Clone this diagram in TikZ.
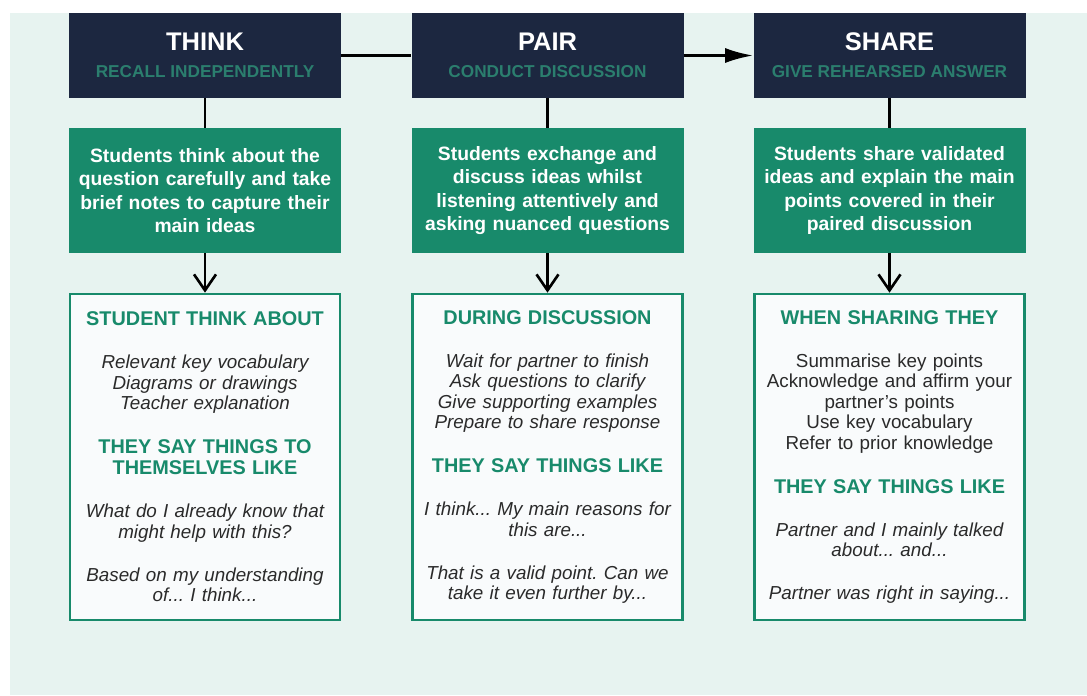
\documentclass[tikz,border=0pt]{standalone}
\usepackage{fontspec}
\setmainfont{Liberation Sans}
\usetikzlibrary{arrows.meta}
\frenchspacing
\definecolor{mint}{HTML}{E7F3F0}
\definecolor{navy}{HTML}{1C2740}
\definecolor{leaf}{HTML}{188A6B}
\definecolor{dimleaf}{HTML}{2B7E6E}
\definecolor{ink}{HTML}{2A2A2A}
\definecolor{paper}{HTML}{F9FBFC}
\def\stagesub{\fontsize{9.8}{11}\selectfont\color{dimleaf}}
\def\detailhead#1{{\leavevmode\fontsize{11.3}{12}\selectfont\bfseries\color{leaf}#1\par}}
\def\detailtext#1{{\leavevmode#1\par}}
\def\gap{\vskip 12.8pt}
\tikzset{
  stage/.style={fill=navy, text=white, font=\fontsize{14.5}{15.4}\selectfont\bfseries, align=center,
    minimum width=5.44cm, minimum height=1.7cm, inner sep=0pt},
  summary/.style={fill=leaf, text=white, font=\fontsize{11}{13.4}\selectfont\bfseries, align=center,
    text width=5.2cm, minimum width=5.44cm, minimum height=2.5cm, inner sep=0pt},
  detail/.style={draw=leaf, line width=1.5pt, fill=paper, text=ink, font=\fontsize{10.7}{11.7}\selectfont,
    align=center, text width=5.2cm, minimum width=5.4cm, minimum height=6.52cm, inner sep=0pt,
    execute at begin node=\setlength{\parindent}{0pt}},
  link/.style={line width=1.5pt}
}

\begin{document}
\begin{tikzpicture}
	%%%%% BACKDROP %%%%%
	\useasboundingbox (0,0) rectangle (21.74,13.9);
	\fill[white] (0,0) rectangle (21.74,13.9);
	\fill[mint] (0.2,0) rectangle (21.74,13.64);
	
	%%%%% STAGES %%%%%
	\node[stage] (think) at (4.1,12.79) {THINK\\{\stagesub RECALL INDEPENDENTLY}};
	\node[stage] (pair) at (10.95,12.79) {PAIR\\{\stagesub CONDUCT DISCUSSION}};
	\node[stage] (share) at (17.79,12.79) {SHARE\\{\stagesub GIVE REHEARSED ANSWER}};
	
	\draw[link] (think) -- (pair);
	\draw[link, -{Latex[length=0.56cm,width=0.3cm]}] (pair) -- (share);
	
	%%%%% SUMMARIES %%%%%
	\node[summary] (thinknote) at (4.1,10.09) {Students think about the\\question carefully and take\\brief notes to capture their\\main ideas};
	\node[summary] (pairnote) at (10.95,10.09) {Students exchange and\\discuss ideas whilst\\listening attentively and\\asking nuanced questions};
	\node[summary] (sharenote) at (17.79,10.09) {Students share validated\\ideas and explain the main\\points covered in their\\paired discussion};
	
	\draw[link] (think) -- (thinknote);
	\draw[link] (pair) -- (pairnote);
	\draw[link] (share) -- (sharenote);
	
	%%%%% DETAILS %%%%%
	\node[detail] (thinkdetail) at (4.1,4.76) {\detailhead{STUDENT THINK ABOUT}\gap
		\detailtext{\itshape Relevant key vocabulary\\Diagrams or drawings\\Teacher explanation}\gap
		\detailhead{THEY SAY THINGS TO\\THEMSELVES LIKE}\gap
		\detailtext{\itshape What do I already know that\\might help with this?}\gap
		\detailtext{\itshape Based on my understanding\\of... I think...}};
	\node[detail] (pairdetail) at (10.95,4.76) {\detailhead{DURING DISCUSSION}\gap
		\detailtext{\itshape Wait for partner to finish\\Ask questions to clarify\\Give supporting examples\\Prepare to share response}\gap
		\detailhead{THEY SAY THINGS LIKE}\gap
		\detailtext{\itshape I think... My main reasons for\\this are...}\gap
		\detailtext{\itshape That is a valid point. Can we\\take it even further by...}};
	\node[detail] (sharedetail) at (17.79,4.76) {\detailhead{WHEN SHARING THEY}\gap
		\detailtext{Summarise key points\\Acknowledge and affirm your\\partner's points\\Use key vocabulary\\Refer to prior knowledge}\gap
		\detailhead{THEY SAY THINGS LIKE}\gap
		\detailtext{\itshape Partner and I mainly talked\\about... and...}\gap
		\detailtext{\itshape Partner was right in saying...}};
	
	\draw[link, -{Straight Barb[length=0.32cm,width=0.44cm]}] (thinknote) -- (thinkdetail);
	\draw[link, -{Straight Barb[length=0.32cm,width=0.44cm]}] (pairnote) -- (pairdetail);
	\draw[link, -{Straight Barb[length=0.32cm,width=0.44cm]}] (sharenote) -- (sharedetail);
\end{tikzpicture}
\end{document}
